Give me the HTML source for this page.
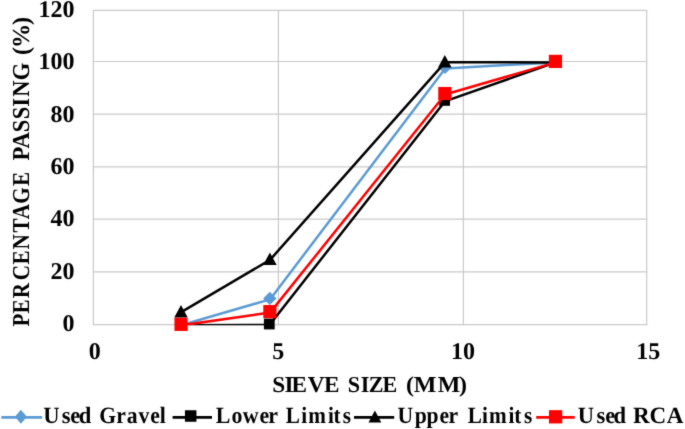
<!DOCTYPE html><html><head><meta charset="utf-8"><title>Sieve analysis chart</title><style>html,body{margin:0;padding:0;background:#fff;overflow:hidden}svg{display:block}text{font-family:"Liberation Serif","Times New Roman",serif;font-weight:bold;fill:#000;text-rendering:geometricPrecision}</style></head><body>
<svg width="685" height="429" viewBox="0 0 685 429">
<defs><filter id="soft" x="0" y="0" width="685" height="429" filterUnits="userSpaceOnUse" color-interpolation-filters="sRGB"><feConvolveMatrix order="3" kernelMatrix="0.0200 0.0800 0.0200 0.0800 0.6000 0.0800 0.0200 0.0800 0.0200" edgeMode="duplicate"/></filter></defs>
<g filter="url(#soft)">
<rect width="685" height="429" fill="#fff"/>
<g stroke="#cacaca" stroke-width="1.2" fill="none">
<line x1="92.9" y1="324.7" x2="647.2" y2="324.7"/>
<line x1="92.9" y1="271.8" x2="647.2" y2="271.8"/>
<line x1="92.9" y1="219.2" x2="647.2" y2="219.2"/>
<line x1="92.9" y1="166.8" x2="647.2" y2="166.8"/>
<line x1="92.9" y1="114.2" x2="647.2" y2="114.2"/>
<line x1="92.9" y1="61.5" x2="647.2" y2="61.5"/>
<line x1="92.9" y1="10.4" x2="647.2" y2="10.4"/>
<line x1="93.4" y1="9.9" x2="93.4" y2="325.2"/>
<line x1="278.4" y1="9.9" x2="278.4" y2="325.2"/>
<line x1="463.4" y1="9.9" x2="463.4" y2="325.2"/>
<line x1="646.7" y1="9.9" x2="646.7" y2="325.2"/>
</g>
<defs><clipPath id="pc"><rect x="92.4" y="9.4" width="555.3000000000001" height="315.90000000000003"/></clipPath></defs>
<polyline clip-path="url(#pc)" points="181.10,325.20 270.00,299.40 445.20,68.40 555.60,62.40" fill="none" stroke="#5B9BD5" stroke-width="2.5" stroke-linejoin="round"/>
<polygon points="180.90,317.50 187.60,324.20 180.90,330.90 174.20,324.20" fill="#5B9BD5"/>
<polygon points="269.80,291.70 276.50,298.40 269.80,305.10 263.10,298.40" fill="#5B9BD5"/>
<polygon points="445.00,60.70 451.70,67.40 445.00,74.10 438.30,67.40" fill="#5B9BD5"/>
<polygon points="555.40,54.70 562.10,61.40 555.40,68.10 548.70,61.40" fill="#5B9BD5"/>
<polyline clip-path="url(#pc)" points="181.10,325.20 269.50,325.00 444.80,101.40 555.60,62.40" fill="none" stroke="#000" stroke-width="2.5" stroke-linejoin="round"/>
<rect x="175.50" y="318.80" width="10.8" height="10.8" fill="#000"/>
<rect x="263.90" y="318.60" width="10.8" height="10.8" fill="#000"/>
<rect x="439.20" y="95.00" width="10.8" height="10.8" fill="#000"/>
<rect x="550.00" y="56.00" width="10.8" height="10.8" fill="#000"/>
<polyline clip-path="url(#pc)" points="181.20,312.20 270.10,259.80 445.00,62.30 555.60,62.40" fill="none" stroke="#000" stroke-width="2.5" stroke-linejoin="round"/>
<polygon points="181.00,304.90 187.75,317.50 174.25,317.50" fill="#000"/>
<polygon points="269.90,252.50 276.65,265.10 263.15,265.10" fill="#000"/>
<polygon points="444.80,55.00 451.55,67.60 438.05,67.60" fill="#000"/>
<polygon points="555.40,55.10 562.15,67.70 548.65,67.70" fill="#000"/>
<polyline clip-path="url(#pc)" points="181.25,325.35 270.10,312.60 445.05,94.55 555.65,62.40" fill="none" stroke="#f00" stroke-width="2.5" stroke-linejoin="round"/>
<rect x="174.45" y="317.75" width="13.2" height="13.2" fill="#f00"/>
<rect x="263.30" y="305.00" width="13.2" height="13.2" fill="#f00"/>
<rect x="438.25" y="86.95" width="13.2" height="13.2" fill="#f00"/>
<rect x="548.85" y="54.80" width="13.2" height="13.2" fill="#f00"/>
<text transform="translate(74.50 16.60)" font-size="24" text-anchor="end">120</text>
<text transform="translate(74.50 69.30)" font-size="24" text-anchor="end">100</text>
<text transform="translate(74.50 121.90)" font-size="24" text-anchor="end">80</text>
<text transform="translate(74.50 174.40)" font-size="24" text-anchor="end">60</text>
<text transform="translate(74.50 225.70)" font-size="24" text-anchor="end">40</text>
<text transform="translate(74.50 278.55)" font-size="24" text-anchor="end">20</text>
<text transform="translate(74.50 331.30)" font-size="24" text-anchor="end">0</text>
<text transform="translate(94.85 358.60)" font-size="24" text-anchor="middle">0</text>
<text transform="translate(278.20 358.60)" font-size="24" text-anchor="middle">5</text>
<text transform="translate(463.00 358.60)" font-size="24" text-anchor="middle">10</text>
<text transform="translate(648.30 358.60)" font-size="24" text-anchor="middle">15</text>
<text transform="translate(0 391.70) scale(1.02 1)" x="266.82 278.95 285.78 301.77 317.69" font-size="22.8">SIEVE</text>
<text transform="translate(0 391.70) scale(0.97 1)" x="358.54 371.85 380.11 394.44" font-size="22.8">SIZE</text>
<text transform="translate(0 391.70) scale(1.05 1)" x="386.69 394.04 416.80 437.19" font-size="22.8">(MM)</text>
<text transform="translate(28.70 0) rotate(-90) scale(0.87 1)" x="-375.27 -360.27 -342.94 -322.06 -304.01 -286.78 -267.19 -251.91 -234.19 -213.78" font-size="24.3">PERCENTAGE</text>
<text transform="translate(28.70 0) rotate(-90) scale(0.93 1)" x="-172.66 -159.72 -142.21 -128.23 -114.73 -104.06 -86.43" font-size="24.3">PASSING</text>
<text transform="translate(28.70 0) rotate(-90)" x="-54.89 -48.11 -24.90" font-size="24.3">(%)</text>
<text transform="translate(0 422.60) scale(0.97 1)" x="44.50 63.65 72.46 81.17" font-size="23.3">Used</text>
<text transform="translate(0 422.60) scale(0.93 1)" x="106.82 124.98 136.40 148.85 161.51 171.90" font-size="23.3">Gravel</text>
<text transform="translate(0 422.60) scale(0.94 1)" x="229.54 246.41 258.16 276.06 285.40" font-size="23.3">Lower</text>
<text transform="translate(0 422.60) scale(0.91 1)" x="313.95 331.07 338.75 360.36 366.42 376.77" font-size="23.3">Limits</text>
<text transform="translate(0 422.60) scale(0.93 1)" x="427.34 446.00 458.68 472.47 482.29" font-size="23.3">Upper</text>
<text transform="translate(0 422.60) scale(0.91 1)" x="513.95 529.75 537.38 558.71 565.10 575.73" font-size="23.3">Limits</text>
<text transform="translate(0 422.60) scale(0.97 1)" x="595.74 614.88 623.86 632.41" font-size="23.3">Used</text>
<text transform="translate(0 422.60) scale(0.99 1)" x="639.42 656.05 673.53" font-size="23.3">RCA</text>
<line x1="1.3" y1="417.4" x2="42.1" y2="417.4" stroke="#5B9BD5" stroke-width="2.7"/>
<polygon points="20.90,409.80 26.90,416.80 20.90,423.80 14.90,416.80" fill="#5B9BD5"/>
<line x1="172.6" y1="417.4" x2="212" y2="417.4" stroke="#000" stroke-width="2.7"/>
<rect x="184.95" y="410.25" width="11.5" height="11.5" fill="#000"/>
<line x1="354" y1="417.4" x2="394.2" y2="417.4" stroke="#000" stroke-width="2.7"/>
<polygon points="374.90,410.40 381.30,422.60 368.50,422.60" fill="#000"/>
<line x1="536.2" y1="417.4" x2="574.7" y2="417.4" stroke="#f00" stroke-width="2.7"/>
<rect x="548.95" y="410.15" width="13.3" height="13.3" fill="#f00"/>
</g>
</svg></body></html>
